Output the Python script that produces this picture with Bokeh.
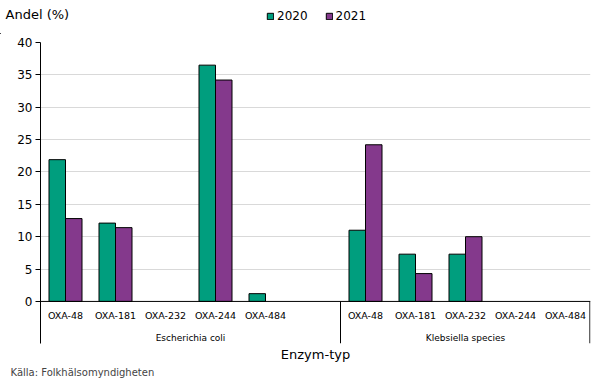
from bokeh.plotting import figure
from bokeh.layouts import column
from bokeh.models import Range1d, FixedTicker, Span, Legend, LegendItem, ColumnDataSource, Title
from bokeh.core.properties import value
from bokeh.embed import file_html
from bokeh.resources import INLINE

# ---- data ----
groups = ["Escherichia coli", "Klebsiella species"]
enzymes = ["OXA-48", "OXA-181", "OXA-232", "OXA-244", "OXA-484"]
years = ["2020", "2021"]
ecoli_2020 = [21.9, 12.1, 0.0, 36.5, 1.2]
ecoli_2021 = [12.8, 11.4, 0.0, 34.2, 0.0]
kleb_2020 = [11.0, 7.3, 7.3, 0.0, 0.0]
kleb_2021 = [24.2, 4.3, 10.0, 0.0, 0.0]
y_ticks = [0, 5, 10, 15, 20, 25, 30, 35, 40]
y_title = "Andel (%)"
x_title = "Enzym-typ"
source_note = "Källa: Folkhälsomyndigheten"

series = {"2020": [ecoli_2020, kleb_2020], "2021": [ecoli_2021, kleb_2021]}
colors = {"2020": "#009E7E", "2021": "#84398C"}
FONT = "DejaVu Sans"

W = 605
TOP_H = 34
MAIN_H = 379 - TOP_H
LEFT = 40
RIGHT = 15

# slot layout: first group carries one blank slot after it (as in the source chart)
group_spans = [len(enzymes) + 1, len(enzymes)]
group_starts = [sum(group_spans[:i]) for i in range(len(groups))]
group_ends = [s + w for s, w in zip(group_starts, group_spans)]
total_slots = group_ends[-1]

cat_x, cat_lab = [], []
for gs in group_starts:
    for i, e in enumerate(enzymes):
        cat_x.append(gs + i + 0.5)
        cat_lab.append(e)

# ---------------- header strip: y-title + legend ----------------
top = figure(width=W, height=TOP_H, x_axis_type=None, y_axis_type=None,
             output_backend="svg", toolbar_location=None, min_border=0)
unaligned = "frame_align" in top.properties()
if unaligned:
    top.frame_align = False
    x0 = 0          # header frame starts at the page's left edge
else:
    x0 = LEFT       # header frame is aligned with the chart frame
top.x_range = Range1d(x0, W - (0 if unaligned else RIGHT))
top.y_range = Range1d(0, TOP_H)
top.outline_line_color = None
top.grid.visible = False
top.text(x=[max(5, x0)], y=[TOP_H - 14], text=[y_title], text_align="left", text_baseline="middle",
         text_font=value(FONT), text_font_size="13px", text_color="black")
dummies = []
for yr in years:
    dummies.append(top.vbar(x=[-5000], top=[1], width=1, fill_color=colors[yr],
                            line_color="black", line_width=1))
legend = Legend(items=[LegendItem(label=yr, renderers=[r]) for yr, r in zip(years, dummies)],
                orientation="horizontal", location=(266 - x0, TOP_H - 23), border_line_color=None,
                background_fill_alpha=0, padding=0, margin=0, spacing=17,
                glyph_width=8, glyph_height=8, label_standoff=3, label_height=14,
                label_text_font=FONT, label_text_font_size="12px", label_text_color="black")
top.add_layout(legend)

# ---------------- main chart ----------------
p = figure(width=W, height=MAIN_H, x_range=Range1d(0, total_slots), y_range=Range1d(-6.5, 40),
           output_backend="svg", toolbar_location=None,
           min_border_left=LEFT, min_border_right=RIGHT, min_border_top=42 - TOP_H,
           min_border_bottom=36)
if unaligned:
    p.frame_align = False
p.outline_line_color = None
p.background_fill_color = "white"
p.xgrid.visible = False
p.ygrid.ticker = FixedTicker(ticks=y_ticks[1:])
p.ygrid.grid_line_color = "#D9D9D9"
p.ygrid.grid_line_width = 1

ya = p.yaxis[0]
ya.ticker = FixedTicker(ticks=y_ticks)
ya.major_tick_out = 5
ya.major_tick_in = 0
ya.minor_tick_line_color = None
ya.axis_line_color = "black"
ya.major_tick_line_color = "black"
ya.major_label_standoff = 3
ya.major_label_text_font = FONT
ya.major_label_text_font_size = "12px"
ya.major_label_text_color = "black"

xa = p.xaxis[0]
xa.ticker = FixedTicker(ticks=[])
xa.axis_line_color = None
xa.major_tick_out = 0
xa.major_tick_in = 0
xa.major_label_standoff = 0
xa.axis_label = x_title
xa.axis_label_text_font = FONT
xa.axis_label_text_font_size = "13px"
xa.axis_label_text_font_style = "normal"
xa.axis_label_text_color = "black"
xa.axis_label_standoff = 3

bar_w = 0.33
for k, yr in enumerate(years):
    tops = [v for grp in series[yr] for v in grp]
    xs = [x + (k - 0.5) * bar_w for x in cat_x]
    keep = [i for i, v in enumerate(tops) if v > 0]
    src = ColumnDataSource(dict(x=[xs[i] for i in keep], top=[tops[i] for i in keep]))
    p.vbar(x="x", top="top", bottom=0, width=bar_w, source=src,
           fill_color=colors[yr], line_color="black", line_width=1)

p.add_layout(Span(location=0, dimension="width", line_color="black", line_width=1))

# group separators below the axis (keep the last one just inside the frame)
sep_x = [min(e, total_slots - 0.012) for e in group_ends]
p.segment(x0=sep_x, y0=[0] * len(sep_x), x1=sep_x, y1=[-6.5] * len(sep_x),
          line_color="black", line_width=1)

p.text(x=cat_x, y=[-2.15] * len(cat_x), text=cat_lab, text_align="center",
       text_baseline="middle", text_font=value(FONT), text_font_size="9.5px", text_color="black")
gx = [(s + e) / 2 for s, e in zip(group_starts, group_ends)]
p.text(x=gx, y=[-5.65] * len(gx), text=groups, text_align="center",
       text_baseline="middle", text_font=value(FONT), text_font_size="9px", text_color="black")

p.add_layout(Title(text=source_note, align="left", offset=-30, text_font=FONT,
                   text_font_size="10px", text_font_style="normal", standoff=0), "below")

layout = column(top, p, spacing=0)
open("out.html", "w").write(file_html(layout, INLINE))
